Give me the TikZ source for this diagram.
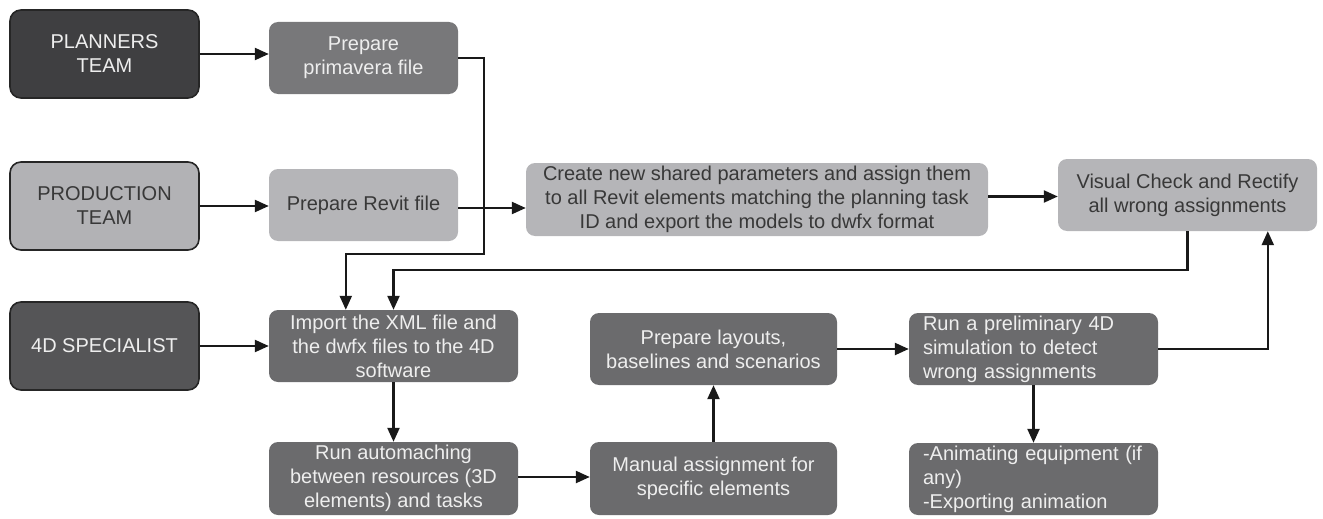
\documentclass[tikz,border=0pt]{standalone}
\usepackage{fontspec}
\setmainfont{Liberation Sans}
\usetikzlibrary{arrows.meta}
\definecolor{teamdark}{HTML}{3F3F41}
\definecolor{teamspec}{HTML}{555557}
\definecolor{teamlight}{HTML}{B2B2B5}
\definecolor{procmid}{HTML}{78787A}
\definecolor{proclight}{HTML}{B5B5B8}
\definecolor{procdark}{HTML}{6B6B6D}
\definecolor{txtlight}{HTML}{EEEEEE}
\definecolor{txtdark}{HTML}{383838}
\begin{document}
\begin{tikzpicture}[x=1pt,y=-1pt,
  every node/.style={font=\fontsize{20}{24}\selectfont, inner sep=0pt, align=center},
  teambox/.style={draw=black!85, line width=1.6pt, rounded corners=11pt, minimum width=189pt, minimum height=88pt},
  procbox/.style={rounded corners=9pt},
  lightproc/.style={procbox, fill=proclight, text=txtdark},
  midproc/.style={procbox, fill=procmid, text=txtlight},
  darkproc/.style={procbox, fill=procdark, text=txtlight},
  arr/.style={line width=2.3pt, draw=black!90, -{Triangle[length=14pt,width=12pt]}},
  ln/.style={line width=2.3pt, draw=black!90}
]
\useasboundingbox (0,0) rectangle (1323,519);

% team boxes
\node[teambox, fill=teamdark, text=txtlight] (planners) at (104.5,54) {PLANNERS\\TEAM};
\node[teambox, fill=teamlight, text=txtdark] (prod) at (104.5,206) {PRODUCTION\\TEAM};
\node[teambox, fill=teamspec, text=txtlight] (spec) at (104.5,346) {4D SPECIALIST};

% process boxes
\node[midproc, minimum width=189pt, minimum height=72pt] (prim) at (363.5,58) {Prepare\\primavera file};
\node[lightproc, minimum width=189pt, minimum height=72pt] (revit) at (363.5,205) {Prepare Revit file};
\node[lightproc, minimum width=462pt, minimum height=73pt] (create) at (757,199.5)
  {Create new shared parameters and assign them\\to all Revit elements matching the planning task\\ID and export the models to dwfx format};
\node[lightproc, minimum width=259pt, minimum height=72pt] (visual) at (1187.5,195) {Visual Check and Rectify\\all wrong assignments};
\node[darkproc, minimum width=249pt, minimum height=72pt] (import) at (393.5,346) {Import the XML file and\\the dwfx files to the 4D\\software};
\node[darkproc, minimum width=247pt, minimum height=72pt] (layouts) at (713.5,349) {Prepare layouts,\\baselines and scenarios};
\node[darkproc, minimum width=249pt, minimum height=72pt, align=left, text width=221pt, inner xsep=14pt] (prelim) at (1033.5,349) {Run a preliminary 4D\\simulation to detect\\wrong assignments};
\node[darkproc, minimum width=249pt, minimum height=73pt] (auto) at (393.5,478.5) {Run automaching\\between resources (3D\\elements) and tasks};
\node[darkproc, minimum width=247pt, minimum height=73pt] (manual) at (713.5,478.5) {Manual assignment for\\specific elements};
\node[darkproc, minimum width=249pt, minimum height=72pt, align=left, text width=221pt, inner xsep=14pt] (anim) at (1033.5,479) {-Animating equipment (if\\any)\\-Exporting animation};

% helper coordinates
\coordinate (c1) at (484,254);
\coordinate (c2) at (0,270);

% connectors
\draw[arr] (planners.east) -- (planners.east -| prim.west);
\draw[arr] (prod.east) -- (prod.east -| revit.west);
\draw[arr] (spec.east) -- (spec.east -| import.west);
\draw[arr] ([yshift=-3pt]revit.east) -- ([yshift=-3pt]revit.east -| create.west);
\draw[arr] ([yshift=3pt]create.east) -- ([yshift=3pt]create.east -| visual.west);
\draw[arr] (prim.east) -| (c1) -| ([xshift=77pt]import.north west);
\draw[arr] (visual.south) -- (visual.south |- c2) -| (import.north);
\draw[arr] (import.south) -- (auto.north);
\draw[arr] ([yshift=1.5pt]auto.east) -- ([yshift=1.5pt]auto.east -| manual.west);
\draw[arr] (manual.north) -- (layouts.south);
\draw[arr] (layouts.east) -- (prelim.west);
\draw[arr] (prelim.east) -| ([xshift=210pt]visual.south west);
\draw[arr] (prelim.south) -- (anim.north);
\end{tikzpicture}
\end{document}
